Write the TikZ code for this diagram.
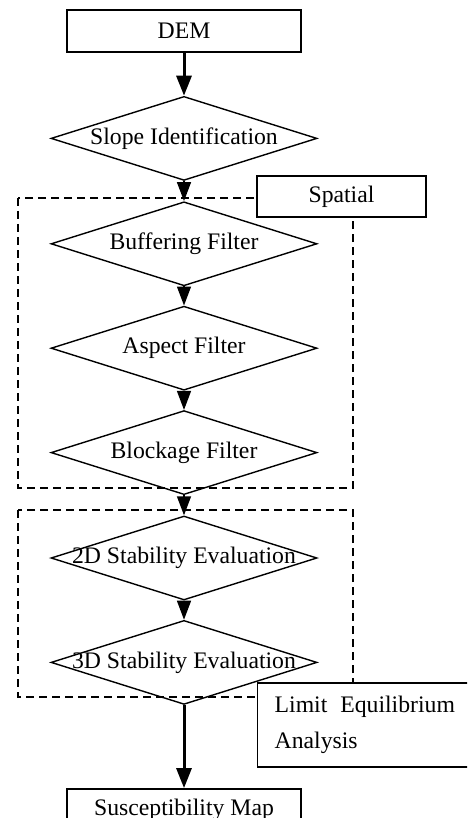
\documentclass[tikz,border=0pt]{standalone}
\usepackage{fontspec}
\setmainfont{Liberation Serif}
\usetikzlibrary{arrows.meta, positioning, shapes.geometric}

\begin{document}
\begin{tikzpicture}[x=1pt, y=-1pt,
		box/.style={draw, fill=white, line width=1.4pt, minimum width=234pt,
			minimum height=42pt, inner sep=0pt, font=\fontsize{23.7}{28}\selectfont},
		decision/.style={draw, diamond, line width=1.4pt, minimum width=266pt,
			minimum height=84pt, inner sep=0pt, font=\fontsize{23.7}{28}\selectfont},
		group/.style={line width=1.4pt, dash pattern=on 8pt off 5pt},
		arrow/.style={-{Triangle[length=19pt, width=14pt]}, line width=1.4pt},
		bigarrow/.style={-{Triangle[length=20pt, width=15pt]}, line width=3pt},
		node distance=19pt
	]
		\useasboundingbox (0,0) rectangle (467,818);
		\clip (0,0) rectangle (467,818);
		\node[box] (dem) at (184,31) {DEM};
		\node[decision, below=43pt of dem] (slope) {\makebox[0pt]{Slope Identification}};
		\node[decision, below=20pt of slope] (buffer) {\makebox[0pt]{Buffering Filter}};
		\node[decision, below=of buffer] (aspect) {\makebox[0pt]{Aspect Filter}};
		\node[decision, below=of aspect] (block) {\makebox[0pt]{Blockage Filter}};
		\node[decision, below=20pt of block] (stab2) {\makebox[0pt]{2D Stability Evaluation}};
		\node[decision, below=of stab2] (stab3) {\makebox[0pt]{3D Stability Evaluation}};
		\node[box, below=83pt of stab3] (susc) {Susceptibility Map};
		% dashed groups
		\draw[group] (18,198) rectangle (353,488);
		\draw[group] (18,510) rectangle (353,697);
		\node[box, minimum width=169pt, minimum height=41pt] (spatial) at (341.5,196.5) {Spatial};
		\node[box, anchor=west, text width=200pt, inner xsep=16pt, minimum height=84pt,
			align=left, font=\fontsize{23.7}{36}\selectfont] (lem) at (257,725)
			{Limit\hspace{13pt}Equilibrium\\Analysis};
		\draw[bigarrow] (dem) -- (slope);
		\foreach \a/\b in {slope/buffer,buffer/aspect,aspect/block,block/stab2,stab2/stab3}
			\draw[arrow] (\a) -- (\b);
		\draw[bigarrow] (stab3) -- (susc);
	\end{tikzpicture}
\end{document}
